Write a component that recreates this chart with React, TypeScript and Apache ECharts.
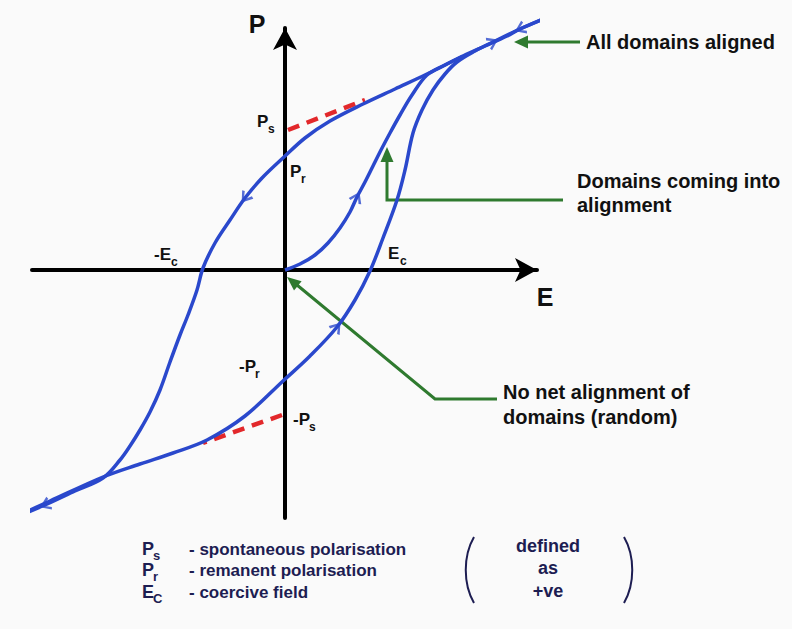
import { useEffect, useRef } from "react";
import * as echarts from "echarts";

// Ferroelectric hysteresis loop: electric field E against polarisation P (arbitrary units).
// Branch travelled while the field is reduced from positive to negative saturation.
const descendingBranch: [number, number][] = [
  [2.63, 2.53], [2.35, 2.41], [2.22, 2.34], [2.0, 2.24], [1.78, 2.14],
  [1.42, 1.96], [1.1, 1.81], [0.78, 1.66], [0.45, 1.49], [0.2, 1.32],
  [-0.01, 1.13], [-0.23, 0.92], [-0.4, 0.72], [-0.55, 0.5], [-0.7, 0.27],
  [-0.82, 0.02], [-0.88, -0.2], [-0.97, -0.45], [-1.05, -0.65], [-1.15, -0.92],
  [-1.25, -1.2], [-1.35, -1.42], [-1.45, -1.6], [-1.55, -1.76], [-1.65, -1.9],
  [-1.82, -2.08], [-2.1, -2.21], [-2.4, -2.35], [-2.72, -2.48],
];

// Branch travelled while the field is raised from negative to positive saturation.
const ascendingBranch: [number, number][] = [
  [-2.72, -2.48], [-2.35, -2.31], [-1.82, -2.07], [-1.45, -1.94], [-1.12, -1.83],
  [-0.78, -1.7], [-0.4, -1.46], [-0.02, -1.11], [0.25, -0.86], [0.52, -0.57],
  [0.7, -0.3], [0.85, -0.01], [0.98, 0.32], [1.12, 0.7], [1.2, 1.0],
  [1.28, 1.37], [1.37, 1.6], [1.48, 1.8], [1.6, 1.96], [1.72, 2.08],
  [1.9, 2.19], [2.08, 2.28], [2.35, 2.41], [2.63, 2.53],
];

// First polarisation of an unpoled sample, starting at the origin.
const initialCurve: [number, number][] = [
  [0, 0], [0.15, 0.06], [0.3, 0.15], [0.43, 0.27], [0.55, 0.42],
  [0.65, 0.58], [0.72, 0.73], [0.8, 0.88], [0.88, 1.04], [0.96, 1.2],
  [1.05, 1.37], [1.15, 1.55], [1.27, 1.75], [1.42, 1.95], [1.6, 2.05], [1.78, 2.14],
];

// Saturated branches extrapolated back to E = 0 (giving +Ps and -Ps).
const psTangentTop: [number, number][] = [[0.03, 1.4], [0.8, 1.7]];
const psTangentBottom: [number, number][] = [[-0.03, -1.45], [-0.82, -1.73]];

// Direction-of-travel arrowheads: curve and point index.
const arrowMarks: { curve: "descending" | "ascending" | "initial"; index: number }[] = [
  { curve: "descending", index: 1 },
  { curve: "descending", index: 12 },
  { curve: "descending", index: 27 },
  { curve: "ascending", index: 9 },
  { curve: "ascending", index: 21 },
  { curve: "initial", index: 6 },
];

const axisRangeE = { min: -2.53, max: 2.52 };
const axisRangeP = { min: -2.48, max: 2.42 };

// Labels placed along the axes: main text, subscript, position, subscript offset
const curveLabels: { main: string; sub: string; x: number; y: number; subDx: number }[] = [
  { main: "P", sub: "s", x: 257, y: 121, subDx: 11 },
  { main: "P", sub: "r", x: 290, y: 171, subDx: 11 },
  { main: "-E", sub: "c", x: 154, y: 254, subDx: 17 },
  { main: "E", sub: "c", x: 388, y: 253, subDx: 12 },
  { main: "-P", sub: "r", x: 239, y: 366, subDx: 16 },
  { main: "-P", sub: "s", x: 293, y: 419, subDx: 16 },
];

const legendSymbols: [string, string][] = [["P", "s"], ["P", "r"], ["E", "C"]];
const legendTexts = ["- spontaneous polarisation", "- remanent polarisation", "- coercive field"];
const legendNote = ["defined", "as", "+ve"];

const BLUE = "#2a48cc";
const GREEN = "#2f7a2f";
const RED = "#e2282b";
const NAVY = "#1d1d52";
const INK = "#111111";
const FONT = "Liberation Sans, Arial, sans-serif";

function arrowData() {
  const curves = { descending: descendingBranch, ascending: ascendingBranch, initial: initialCurve };
  return arrowMarks.map(({ curve, index }) => {
    const pts = curves[curve];
    const prev = pts[Math.max(0, index - 1)];
    const next = pts[Math.min(pts.length - 1, index + 1)];
    const angle = (Math.atan2(next[1] - prev[1], next[0] - prev[0]) * 180) / Math.PI;
    return { value: pts[index], symbolRotate: angle - 90 };
  });
}

function txt(x: number, y: number, text: string, size: number, fill: string, align = "left") {
  return {
    type: "text",
    x,
    y,
    silent: true,
    style: {
      text,
      fill,
      font: `bold ${size}px ${FONT}`,
      textAlign: align,
      align,
      textVerticalAlign: "middle",
      verticalAlign: "middle",
    },
  };
}

export default function App() {
  const ref = useRef<HTMLDivElement>(null);

  useEffect(() => {
    if (!ref.current) return;
    const chart = echarts.init(ref.current, undefined, { renderer: "svg" });

    const graphics: any[] = [];
    // Axis titles
    graphics.push(txt(257, 24, "P", 25, INK, "center"));
    graphics.push(txt(545, 297, "E", 25, INK, "center"));
    // Curve labels with subscripts
    curveLabels.forEach((l) => {
      graphics.push(txt(l.x, l.y, l.main, 17, INK));
      graphics.push(txt(l.x + l.subDx, l.y + 8, l.sub, 12, INK));
    });

    // Annotation: all domains aligned
    graphics.push({
      type: "line",
      shape: { x1: 526, y1: 42, x2: 580, y2: 42 },
      style: { stroke: GREEN, lineWidth: 3 },
    });
    graphics.push({
      type: "polygon",
      shape: { points: [[514, 42], [528, 35.5], [528, 48.5]] },
      style: { fill: GREEN },
    });
    graphics.push(txt(586, 42, "All domains aligned", 20, INK));

    // Annotation: domains coming into alignment
    graphics.push({
      type: "polyline",
      shape: { points: [[563, 200], [387, 200], [387, 160]] },
      style: { stroke: GREEN, lineWidth: 3, fill: "none" },
    });
    graphics.push({
      type: "polygon",
      shape: { points: [[387, 147], [380.5, 162], [393.5, 162]] },
      style: { fill: GREEN },
    });
    graphics.push(txt(577, 181, "Domains coming into", 20, INK));
    graphics.push(txt(577, 205, "alignment", 20, INK));

    // Annotation: no net alignment (random domains)
    graphics.push({
      type: "polyline",
      shape: { points: [[497, 399], [435, 399], [297, 285]] },
      style: { stroke: GREEN, lineWidth: 3, fill: "none" },
    });
    graphics.push({
      type: "polygon",
      shape: { points: [[287, 277], [301.6, 281.3], [294, 290.5]] },
      style: { fill: GREEN },
    });
    graphics.push(txt(503, 392, "No net alignment of", 20, INK));
    graphics.push(txt(503, 417, "domains (random)", 20, INK));

    // Key
    const keyRows = [549, 570, 592];
    legendSymbols.forEach(([m, s], i) => {
      graphics.push(txt(142, keyRows[i], m, 18, NAVY));
      graphics.push(txt(153, keyRows[i] + 6, s, 13, NAVY));
      graphics.push(txt(189, keyRows[i], legendTexts[i], 17, NAVY));
    });
    const noteRows = [546, 568, 591];
    legendNote.forEach((t, i) => graphics.push(txt(548, noteRows[i], t, 18, NAVY, "center")));
    graphics.push({
      type: "bezierCurve",
      shape: { x1: 474, y1: 537, cpx1: 463, cpy1: 556, cpx2: 463, cpy2: 584, x2: 474, y2: 603 },
      style: { stroke: NAVY, lineWidth: 2, fill: "none" },
    });
    graphics.push({
      type: "bezierCurve",
      shape: { x1: 624, y1: 537, cpx1: 635, cpy1: 556, cpx2: 635, cpy2: 584, x2: 624, y2: 603 },
      style: { stroke: NAVY, lineWidth: 2, fill: "none" },
    });

    const curveSeries = (data: [number, number][]) => ({
      type: "line",
      data,
      smooth: 0.35,
      showSymbol: false,
      clip: false,
      silent: true,
      lineStyle: { color: BLUE, width: 3.5 },
      z: 3,
    });

    const dashedSeries = (data: [number, number][]) => ({
      type: "line",
      data,
      showSymbol: false,
      clip: false,
      silent: true,
      lineStyle: { color: RED, width: 4.5, type: [12, 8] },
      z: 2,
    });

    const axisCommon = {
      type: "value",
      axisTick: { show: false },
      axisLabel: { show: false },
      splitLine: { show: false },
      axisLine: {
        show: true,
        onZero: true,
        symbol: ["none", "arrow"],
        symbolSize: [18, 22],
        lineStyle: { color: "#000", width: 4 },
      },
    };

    chart.setOption({
      animation: false,
      backgroundColor: "#fafafa",
      grid: { left: 32, top: 28, width: 505, height: 490 },
      xAxis: { ...axisCommon, ...axisRangeE },
      yAxis: { ...axisCommon, ...axisRangeP },
      series: [
        dashedSeries(psTangentTop),
        dashedSeries(psTangentBottom),
        curveSeries(descendingBranch),
        curveSeries(ascendingBranch),
        curveSeries(initialCurve),
        {
          type: "scatter",
          data: arrowData(),
          clip: false,
          silent: true,
          symbol: "path://M0,10 L5,0 L10,10 L8.2,11 L5,3.6 L1.8,11 Z",
          symbolSize: [14, 11],
          itemStyle: { color: BLUE },
          z: 4,
        },
      ],
      graphic: graphics,
    });

    return () => chart.dispose();
  }, []);

  return (
    <div
      ref={ref}
      style={{ position: "absolute", left: 0, top: 0, width: 792, height: 629, background: "#fafafa" }}
    />
  );
}
